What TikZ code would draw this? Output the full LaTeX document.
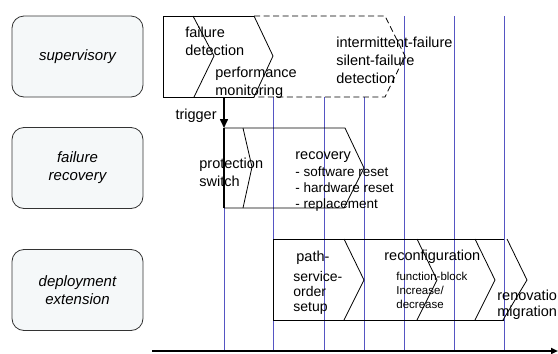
\documentclass[tikz,border=0pt]{standalone}
\usepackage{fontspec}
\setmainfont{Liberation Sans}
\usetikzlibrary{arrows.meta}

\definecolor{laneblue}{RGB}{85,85,195}
\definecolor{lanefill}{RGB}{245,248,249}

\tikzset{
  layer/.style={draw=black!80, fill=lanefill, rounded corners=12pt, line width=0.8pt,
    minimum width=131pt, minimum height=81pt, align=center, inner sep=0pt,
    font=\fontsize{15}{18}\selectfont\itshape},
  % base = baseline of the last line
  txt/.style={anchor=base west, align=left, inner sep=0pt,
    font=\fontsize{14.5}{18}\selectfont},
  item/.style={txt, font=\fontsize{13.5}{16}\selectfont},
  small/.style={txt, font=\fontsize{11.5}{14}\selectfont},
  tick/.style={laneblue, line width=0.7pt},
  later/.style={dash pattern=on 6pt off 3.5pt}
}

\begin{document}
\begin{tikzpicture}[x=1pt,y=-1pt,line width=0.8pt]
    \useasboundingbox (0,0) rectangle (558,354);

    % layer labels on the left
    \node[layer] (sup) at (77.5,56.5) {supervisory};
    \node[layer] (rec) at (77.5,168) {failure\\recovery};
    \node[layer] (dep) at (77.5,290) {deployment\\extension};

    % time marks
    \foreach \x/\y in {224/208, 273/97, 324/97, 364/97, 404/16, 454/16, 504/16}
        \draw[tick] (\x,\y) -- (\x,351);

    % supervisory chain
    \coordinate (S1) at (163,16);
    \coordinate (S2) at (163,97);
    \coordinate (S3) at (254,16);
    \coordinate (S4) at (254,97);
    \draw (S3) -- (S1) -- (S2) -- (S4);
    \draw (193,16) -- (214,56) -- (194,97);
    \draw (S3) -- (273,56) -- (S4);
    \draw[later] (S3) -- (385,16) -- (405,56) -- (385,97) -- (S4);

    \node[txt] (fdet) at (185,55) {failure\\detection};
    \node[txt] (pmon) at (215,95) {performance\\monitoring};
    \node[txt] (sfd) at (336,83) {intermittent-failure\\silent-failure\\detection};

    % failure recovery chain
    \coordinate (R1) at (224,128);
    \coordinate (R2) at (224,208);
    \coordinate (T) at (224,97);
    \draw[line width=1.6pt, -{Triangle[length=9pt,width=8pt]}] (T) -- (R1);
    \node[txt, anchor=base east] (trig) at (217,119) {trigger};
    \draw (R1) -- (345,128) -- (364,168) -- (344,208) -- (R2);
    \draw (243,128) -- (252,167) -- (243,208);
    \draw[line width=1.6pt] (R1) -- (R2);

    \node[txt] (psw) at (199,186) {protection\\switch};
    \node[txt] (rcv) at (295,159) {recovery};
    \node[item] (rlist) at (295,208) {- software reset\\- hardware reset\\- replacement};

    % deployment extension chain
    \coordinate (D1) at (504,239);
    \coordinate (D2) at (273,239);
    \coordinate (D3) at (273,320);
    \coordinate (D4) at (504,320);
    \draw (D1) -- (D2) -- (D3) -- (D4);
    \draw (344,239) -- (364,280) -- (344,320);
    \draw (417,239) -- (437,280) -- (417,320);
    \draw (475,239) -- (495,280) -- (475,320);
    \draw (507,239) -- (527,280) -- (503,320);

    \node[txt] (path) at (296,261) {path-};
    \node[item, font=\fontsize{14}{15}\selectfont] (sos) at (293,311) {service-\\order\\setup};
    \node[txt] (rcf) at (384,260) {reconfiguration};
    \node[small] (fb) at (396,308) {function-block\\Increase/\\decrease};
    \node[item, font=\fontsize{14.5}{16}\selectfont] (ren) at (497,316) {renovation\\migration};

    % time axis
    \draw[line width=1.8pt, -{Triangle[length=7pt,width=6pt]}] (152,351) -- (558,351);
\end{tikzpicture}
\end{document}
